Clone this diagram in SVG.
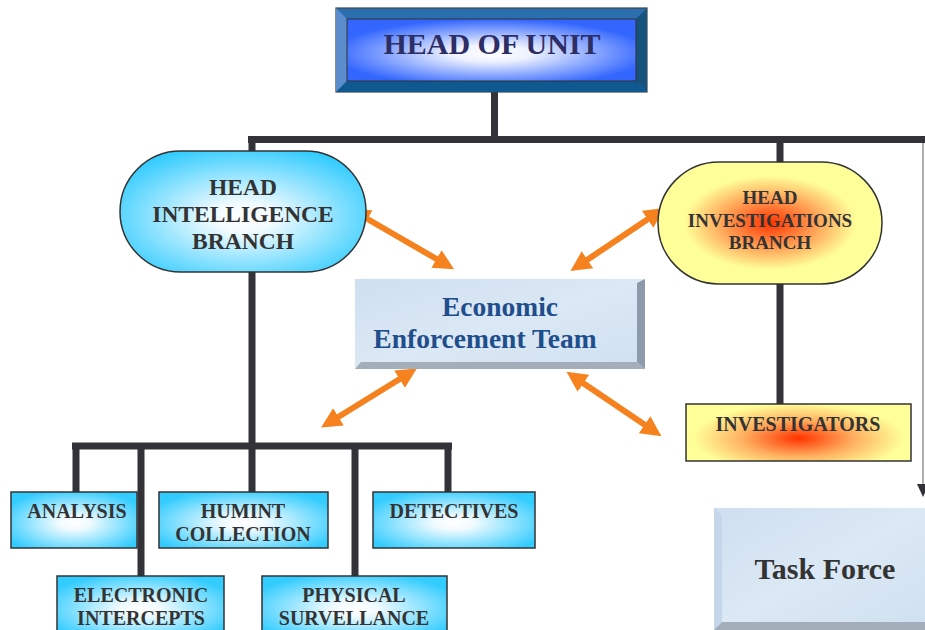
<svg xmlns="http://www.w3.org/2000/svg" width="925" height="630" viewBox="0 0 925 630">
<defs>
<radialGradient id="cyan" cx="50%" cy="55%" r="60%">
<stop offset="0" stop-color="#ffffff"/>
<stop offset="0.2" stop-color="#f2fbff"/>
<stop offset="1" stop-color="#33ccff"/>
</radialGradient>
<radialGradient id="fire" cx="50%" cy="50%" r="55%">
<stop offset="0" stop-color="#ff3300"/>
<stop offset="0.35" stop-color="#ff9a50"/>
<stop offset="0.7" stop-color="#ffff99"/>
<stop offset="1" stop-color="#ffff99"/>
</radialGradient>
<radialGradient id="fire2" cx="50%" cy="60%" r="55%" gradientTransform="translate(0.5 0.6) scale(1 1.3) translate(-0.5 -0.6)">
<stop offset="0" stop-color="#ff3300"/>
<stop offset="0.45" stop-color="#ffb060"/>
<stop offset="0.85" stop-color="#ffff99"/>
<stop offset="1" stop-color="#ffff99"/>
</radialGradient>
<radialGradient id="blue" cx="50%" cy="55%" r="55%">
<stop offset="0" stop-color="#ffffff"/>
<stop offset="0.25" stop-color="#eef2ff"/>
<stop offset="1" stop-color="#3366ff"/>
</radialGradient>
<linearGradient id="ice" x1="0" y1="0" x2="1" y2="1">
<stop offset="0" stop-color="#cfdff0"/>
<stop offset="0.5" stop-color="#dbe8f5"/>
<stop offset="1" stop-color="#d0e0f0"/>
</linearGradient>
<marker id="ah" viewBox="0 0 10 10" refX="2" refY="5" markerWidth="3.4" markerHeight="3.4" orient="auto-start-reverse" markerUnits="strokeWidth">
<path d="M0,0 L10,5 L0,10 Z" fill="#f5821f"/>
</marker>
<style>
.bar{stroke:#333238;stroke-width:7;fill:none}
.box{fill:url(#cyan);stroke:#333;stroke-width:1.5}
.t{font-family:"Liberation Serif","Times New Roman",serif;font-weight:bold;fill:#333;text-anchor:middle}
.s{font-size:20px}
.arr{stroke:#f5821f;stroke-width:6;fill:none;marker-start:url(#ah);marker-end:url(#ah)}
</style>
</defs>
<g id="connectors">
<path class="bar" d="M494.5,92 V139.5 M248,139.5 H925 M252,136 V156 M780,139 V163 M252,272 V446 M780,284 V404"/>
<path class="bar" d="M72,446 H452 M76,446 V492 M141,446 V576 M252,446 V492 M355,446 V576 M448,446 V492"/>
<line x1="923" y1="143" x2="923" y2="486" stroke="#777" stroke-width="1.2"/>
<polygon points="917,484 929,484 923,497" fill="#333238"/>
<line class="arr" x1="364" y1="217" x2="440" y2="261"/>
<line class="arr" x1="584" y1="262" x2="651" y2="217"/>
<line class="arr" x1="403" y1="377" x2="335" y2="419"/>
<line class="arr" x1="580" y1="381" x2="648" y2="427"/>
</g>
<g id="head-of-unit">
<rect x="336" y="8" width="311" height="84" fill="#2a6eb0" stroke="#444" stroke-width="1.2"/>
<polygon points="336,8 347,19 347,81 336,92" fill="#5b8ccc"/>
<polygon points="647,8 636,19 636,81 647,92" fill="#17517e"/>
<polygon points="336,92 347,81 636,81 647,92" fill="#0f5890"/>
<rect x="347" y="19" width="289" height="62" fill="url(#blue)" stroke="#333" stroke-width="1"/>
<text class="t" x="492" y="54" font-size="30" style="fill:#2e2e66">HEAD OF UNIT</text>
</g>
<g id="head-intelligence">
<rect x="120" y="151" width="246" height="121" rx="60.5" fill="url(#cyan)" stroke="#333" stroke-width="1.5"/>
<text class="t" x="243" y="195" font-size="23.5">HEAD</text>
<text class="t" x="243" y="222" font-size="23.5">INTELLIGENCE</text>
<text class="t" x="243" y="249" font-size="23.5">BRANCH</text>
</g>
<g id="head-investigations">
<rect x="658" y="162" width="224" height="122" rx="61" fill="url(#fire)" stroke="#333" stroke-width="1.5"/>
<text class="t" x="770" y="204" font-size="19">HEAD</text>
<text class="t" x="770" y="227" font-size="19">INVESTIGATIONS</text>
<text class="t" x="770" y="249" font-size="19">BRANCH</text>
</g>
<g id="economic-enforcement-team">
<rect x="355" y="279" width="290" height="90" fill="url(#ice)"/>
<polygon points="645,279 645,369 637,362 637,283" fill="#8e9aab"/>
<polygon points="355,369 645,369 637,362 361,362" fill="#a4adba"/>
<text class="t" x="500" y="316" font-size="27.5" style="fill:#1f4e8c">Economic</text>
<text class="t" x="485" y="348" font-size="27.5" style="fill:#1f4e8c">Enforcement Team</text>
</g>
<g id="investigators">
<rect x="686" y="404" width="225" height="57" fill="url(#fire2)" stroke="#333" stroke-width="1.5"/>
<text class="t s" x="798" y="431">INVESTIGATORS</text>
</g>
<g id="task-force">
<rect x="714" y="508" width="211" height="122" fill="url(#ice)"/>
<polygon points="714,508 722,516 722,622 714,630" fill="#c4d6ea"/>
<polygon points="714,630 722,622 925,622 925,630" fill="#a4adba"/>
<text class="t" x="825" y="579" font-size="30">Task Force</text>
</g>
<g id="analysis">
<rect class="box" x="11" y="492" width="126" height="56"/>
<text class="t s" x="77" y="518">ANALYSIS</text>
</g>
<g id="humint-collection">
<rect class="box" x="159" y="492" width="169" height="56"/>
<text class="t s" x="243" y="518">HUMINT</text>
<text class="t s" x="243" y="541">COLLECTION</text>
</g>
<g id="detectives">
<rect class="box" x="373" y="492" width="162" height="56"/>
<text class="t s" x="454" y="518">DETECTIVES</text>
</g>
<g id="electronic-intercepts">
<rect class="box" x="57" y="576" width="167" height="60"/>
<text class="t s" x="141" y="602">ELECTRONIC</text>
<text class="t s" x="141" y="625">INTERCEPTS</text>
</g>
<g id="physical-survellance">
<rect class="box" x="262" y="576" width="185" height="60"/>
<text class="t s" x="354" y="602">PHYSICAL</text>
<text class="t s" x="354" y="625">SURVELLANCE</text>
</g>
</svg>
